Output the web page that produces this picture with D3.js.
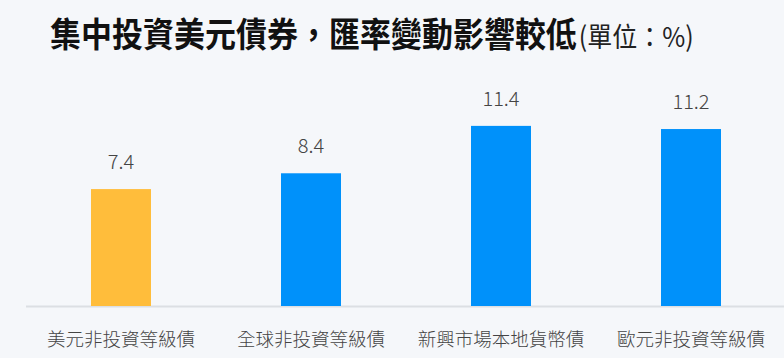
<!DOCTYPE html>
<html><head><meta charset="utf-8">
<script src="https://cdn.jsdelivr.net/npm/d3@7/dist/d3.min.js"></script>
<style>
html,body{margin:0;padding:0;background:#f5f7fa;}
svg{display:block;}
</style></head>
<body><svg id="c" width="784" height="358"></svg>
<script>
const categories = ["美元非投資等級債","全球非投資等級債","新興市場本地貨幣債","歐元非投資等級債"];
const values = [7.4, 8.4, 11.4, 11.2];
const barColors = ["#ffbd3b","#0091fa","#0091fa","#0091fa"];
const titleMain = "集中投資美元債券，匯率變動影響較低";
const titleUnit = "(單位：%)";

const svg = d3.select("#c");
svg.append("rect").attr("width",784).attr("height",358).attr("fill","#f5f7fa");

const x = d3.scaleBand().domain(categories).range([26, 786]).paddingInner(130/190).paddingOuter(65/190);
const y = d3.scaleLinear().domain([0, 12]).range([306, 116.4]);

svg.append("line").attr("x1",26).attr("x2",784).attr("y1",y(0)+0.5).attr("y2",y(0)+0.5)
  .attr("stroke","#dcdfe3").attr("stroke-width",2);

svg.selectAll("rect.bar").data(values).join("rect").attr("class","bar")
  .attr("x",(d,i)=>x(categories[i])).attr("width",x.bandwidth())
  .attr("y",d=>y(d)).attr("height",d=>y(0)-y(d))
  .attr("fill",(d,i)=>barColors[i]);

svg.selectAll("text.val").data(values).join("text").attr("class","val")
  .attr("x",(d,i)=>x(categories[i])+x.bandwidth()/2).attr("y",d=>y(d)-20)
  .attr("text-anchor","middle").attr("font-family","'Noto Sans CJK TC','Noto Sans'")
  .attr("font-weight",300).attr("font-size",20).attr("fill","#444")
  .text(d=>d.toFixed(1));

const xAxis = d3.axisBottom(x).tickSize(0).tickPadding(0);
const ax = svg.append("g").attr("transform",`translate(0,${y(0)})`).call(xAxis);
ax.select(".domain").remove();
ax.selectAll("text").attr("y",40).attr("dy",0)
  .attr("font-family","'Noto Sans CJK TC'").attr("font-weight",300)
  .attr("font-size",18.5).attr("fill","#444");

const t = svg.append("text").attr("transform","translate(50,46.5) scale(1,1.1)")
  .attr("font-family","'Noto Sans CJK TC'").attr("fill","#111");
t.append("tspan").attr("font-weight",700).attr("font-size",31).text(titleMain);
t.append("tspan").attr("font-weight",400).attr("font-size",25).attr("dx",2).attr("fill","#222").text(titleUnit);
</script></body></html>
